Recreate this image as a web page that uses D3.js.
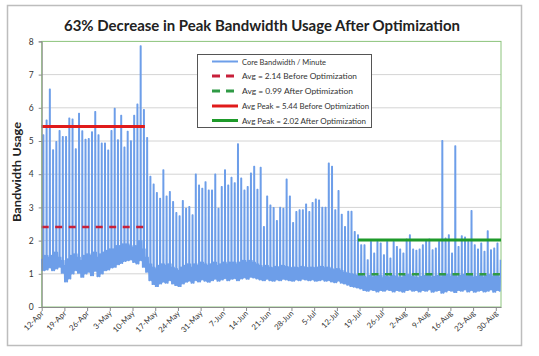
<!DOCTYPE html>
<html><head><meta charset="utf-8">
<script src="https://cdn.jsdelivr.net/npm/d3@7"></script>
<style>body{margin:0;background:#fff}svg{display:block}text{font-family:Lato,"Open Sans",sans-serif}</style>
</head><body><svg id="c" width="539" height="356"></svg>
<script>
const startDate = "2010-04-12";
const tickLabels = ["12-Apr","19-Apr","26-Apr","3-May","10-May","17-May","24-May","31-May","7-Jun","14-Jun","21-Jun","28-Jun","5-Jul","12-Jul","19-Jul","26-Jul","2-Aug","9-Aug","16-Aug","23-Aug","30-Aug"];
const yTicks = [0,1,2,3,4,5,6,7,8];
// daily peak of per-minute bandwidth
const dailyPeak = [5.18,5.63,6.56,4.73,4.98,5.31,5.13,5.13,5.69,5.66,4.76,5.83,5.30,5.05,5.07,5.27,5.88,5.18,4.93,4.93,4.72,5.31,5.98,5.03,5.77,4.81,5.29,5.00,5.77,6.11,7.86,5.94,5.10,
3.93,3.70,3.44,3.27,4.13,3.34,3.47,3.17,2.84,2.74,3.20,2.97,3.02,2.77,4.00,3.67,3.57,3.77,3.52,3.52,4.00,2.97,3.62,4.13,3.67,3.90,3.74,4.91,3.88,3.52,3.62,4.03,4.23,
3.54,4.20,2.42,3.34,3.07,2.99,2.60,3.00,2.97,3.85,3.34,2.54,2.87,2.92,2.92,3.10,2.87,3.14,3.25,3.22,3.00,3.00,4.33,4.23,2.92,3.50,2.79,2.42,2.88,2.88,2.27,2.17,
1.87,1.87,1.42,1.97,1.62,1.97,1.92,1.57,1.97,1.47,1.97,1.82,1.74,1.62,2.04,2.17,1.74,1.70,1.74,1.87,2.02,2.04,1.72,1.77,1.97,5.01,2.07,2.17,1.62,4.85,1.82,2.14,2.10,1.97,2.90,1.87,1.74,1.92,1.67,2.29,1.72,1.77,1.92,1.42];
// daily minimum
const dailyLow = [1.10,1.12,1.18,1.10,1.15,1.20,1.02,0.76,0.85,1.00,1.10,1.02,0.90,1.00,1.05,0.95,1.08,0.92,1.00,1.10,1.12,1.18,1.20,1.28,1.32,1.38,1.40,1.42,1.35,1.30,1.40,1.20,1.05,
0.80,0.68,0.62,0.70,0.75,0.72,0.80,0.70,0.65,0.62,0.70,0.75,0.78,0.72,0.80,0.76,0.82,0.78,0.75,0.80,0.84,0.78,0.82,0.86,0.80,0.84,0.86,0.80,0.85,0.88,0.84,0.90,0.88,
0.85,0.82,0.80,0.84,0.80,0.78,0.82,0.80,0.84,0.82,0.80,0.78,0.82,0.80,0.84,0.82,0.80,0.82,0.78,0.80,0.82,0.78,0.80,0.76,0.74,0.78,0.72,0.70,0.66,0.62,0.60,0.58,
0.55,0.50,0.48,0.52,0.50,0.46,0.50,0.48,0.52,0.50,0.46,0.50,0.48,0.45,0.50,0.52,0.48,0.50,0.46,0.50,0.48,0.52,0.45,0.48,0.50,0.42,0.46,0.50,0.48,0.44,0.50,0.48,0.52,0.46,0.50,0.45,0.48,0.50,0.46,0.48,0.52,0.45,0.50,0.48];
// typical (upper edge of the dense band)
const dailyTypical = [1.45,1.55,1.50,1.55,1.65,1.50,1.40,1.25,1.45,1.55,1.60,1.50,1.40,1.55,1.60,1.55,1.65,1.50,1.60,1.65,1.70,1.75,1.75,1.85,1.85,1.90,1.90,1.85,1.80,1.85,2.00,1.75,1.50,
1.30,1.20,1.15,1.25,1.30,1.25,1.30,1.20,1.15,1.10,1.20,1.25,1.30,1.20,1.30,1.25,1.35,1.30,1.25,1.30,1.35,1.25,1.30,1.35,1.30,1.35,1.35,1.30,1.35,1.40,1.35,1.40,1.35,
1.30,1.25,1.20,1.25,1.20,1.18,1.22,1.20,1.25,1.22,1.20,1.18,1.20,1.18,1.22,1.20,1.18,1.20,1.18,1.20,1.22,1.18,1.20,1.15,1.12,1.15,1.10,1.05,1.02,1.00,0.98,0.95,
0.95,0.92,0.88,0.95,0.90,0.92,0.95,0.88,0.92,0.90,0.95,0.92,0.88,0.90,0.95,0.98,0.92,0.90,0.88,0.92,0.95,0.98,0.90,0.92,0.95,0.90,0.95,0.98,0.92,0.95,0.90,0.95,0.98,0.92,0.95,0.90,0.92,0.95,0.90,0.95,0.98,0.92,0.95,0.90];
// reference lines
const refNames = ["Avg = 2.14 Before Optimization","Avg = 0.99 After Optimization","Avg Peak = 5.44 Before Optimization","Avg Peak = 2.02 After Optimization"];
const refValues = [2.41, 0.99, 5.44, 2.02];
const refStart = [0, 97.5, 0, 97.5];
const refEnd = [31.8, 141.6, 31.8, 141.6];
const refColors = ["#c8203a","#2f9a45","#e01b1b","#1e9a2a"];
const refDashed = [true, true, false, false];
const seriesName = "Core Bandwidth / Minute";

const svg = d3.select("#c");
const DAY = 864e5;
const t0 = new Date(startDate + "T00:00:00Z");
const dateAt = d => new Date(t0.getTime() + d*DAY);
const L = 41.7, R = 501, T = 41.4, B = 307;
const x = d3.scaleUtc().domain([t0, dateAt(141.6)]).range([L, R]);
const y = d3.scaleLinear().domain([0, 8]).range([B, T]);

// outer frame
svg.append("rect").attr("x",7.5).attr("y",5.5).attr("width",514).attr("height",340).attr("fill","#fff").attr("stroke","#bdbdbd").attr("stroke-width",1.5);

// title
svg.append("text").attr("x",262).attr("y",31).attr("text-anchor","middle").attr("font-weight","bold").attr("font-size",15.5)
  .attr("textLength",396).attr("lengthAdjust","spacingAndGlyphs").attr("fill","#222").text("63% Decrease in Peak Bandwidth Usage After Optimization");

// gridlines
svg.append("g").selectAll("line").data(yTicks.filter(v=>v>0&&v<8)).join("line")
  .attr("x1",L).attr("x2",R).attr("y1",d=>y(d)).attr("y2",d=>y(d)).attr("stroke","#d4d4d4").attr("stroke-width",1);
// plot border (green)
svg.append("rect").attr("x",L).attr("y",y(8)).attr("width",R-L).attr("height",B-y(8)).attr("fill","none").attr("stroke","#8cc47c").attr("stroke-width",1);

// series
const pts = [];
dailyPeak.forEach((p,i)=>{
  const lo = dailyLow[i], ty = dailyTypical[i];
  pts.push([i+0.0, ty],[i+0.1, lo],[i+0.2, ty],[i+0.3, lo],[i+0.38, ty],[i+0.42, p],[i+0.6, p],[i+0.64, ty],[i+0.74, lo],[i+0.84, ty],[i+0.92, lo]);
});
const line = d3.line().x(d=>x(dateAt(d[0]))).y(d=>y(d[1]));
svg.append("path").datum(pts.filter(d=>d[0]<=141.5)).attr("d",line).attr("fill","none").attr("stroke","#6d9ee9").attr("stroke-width",1.4).attr("stroke-linejoin","round");

// reference lines
refValues.forEach((v,i)=>{
  svg.append("line").attr("x1",x(dateAt(refStart[i]))).attr("x2",x(dateAt(refEnd[i])))
    .attr("y1",y(v)).attr("y2",y(v)).attr("stroke",refColors[i]).attr("stroke-width",refDashed[i]?2.5:3)
    .attr("stroke-dasharray",refDashed[i]?"7,6.5":null);
});

// axes
const yAxis = d3.axisLeft(y).tickValues(yTicks).tickSize(3).tickFormat(d3.format("d"));
const gy = svg.append("g").attr("transform",`translate(${L},0)`).call(yAxis);
gy.select(".domain").attr("stroke","#8a8a8a");
gy.selectAll(".tick line").attr("stroke","#8a8a8a");
gy.selectAll("text").attr("font-size",8.5).attr("fill","#333").attr("x",-8).style("font-family","Lato,sans-serif");

const xTicks = tickLabels.map((s,i)=>dateAt(i*7));
const xAxis = d3.axisBottom(x).tickValues(xTicks).tickSize(4).tickSizeOuter(0).tickFormat((d,i)=>tickLabels[i]);
const gx = svg.append("g").attr("transform",`translate(0,${B})`).call(xAxis);
gx.select(".domain").attr("stroke","#8a8a8a");
gx.selectAll(".tick line").attr("stroke","#8a8a8a");
gx.selectAll("text").attr("font-size",7.8).attr("fill","#333").style("font-family","Lato,sans-serif")
  .attr("text-anchor","end").attr("dy",0).attr("y",0)
  .attr("transform","translate(2,7) rotate(-45)");

// y axis title
svg.append("text").attr("transform","translate(21,172) rotate(-90)").attr("text-anchor","middle")
  .attr("font-weight","bold").attr("font-size",11).attr("textLength",100).attr("lengthAdjust","spacingAndGlyphs")
  .attr("fill","#222").text("Bandwidth Usage");

// legend
const lg = svg.append("g");
lg.append("rect").attr("x",197.5).attr("y",54.5).attr("width",174).attr("height",73).attr("fill","#fff").attr("stroke","#555").attr("stroke-width",1);
const legItems = [{name:seriesName,color:"#6d9ee9",dash:false,w:2}].concat(refNames.map((n,i)=>({name:n,color:refColors[i],dash:refDashed[i],w:3})));
const rowY = [61.5,76,91,106,120.5];
const legW = [84,115,111,127,124];
legItems.forEach((it,i)=>{
  lg.append("line").attr("x1",212).attr("x2",238).attr("y1",rowY[i]).attr("y2",rowY[i]).attr("stroke",it.color).attr("stroke-width",it.w)
    .attr("stroke-dasharray",it.dash?"8,6":null);
  lg.append("text").attr("x",242).attr("y",rowY[i]+3).attr("font-size",8.4).attr("textLength",legW[i]).attr("lengthAdjust","spacingAndGlyphs")
    .attr("fill","#333").text(it.name);
});
</script></body></html>
